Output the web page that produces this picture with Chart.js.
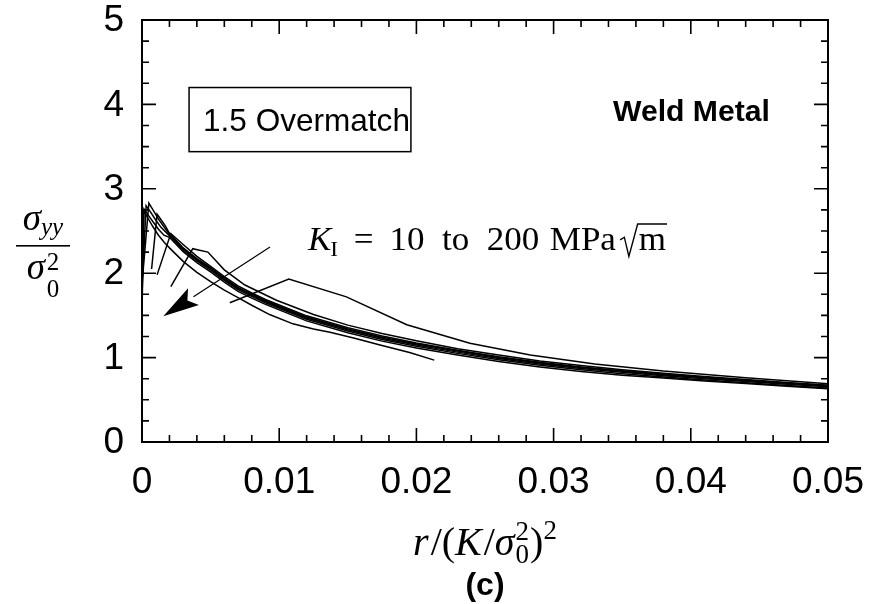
<!DOCTYPE html>
<html><head><meta charset="utf-8">
<script src="https://cdn.jsdelivr.net/npm/chart.js@4.4.1/dist/chart.umd.min.js"></script>
<style>html,body{margin:0;padding:0;background:#fff}canvas{display:block}</style>
</head><body>
<canvas id="c" width="870" height="604"></canvas>
<script>
// ---------- data ----------
const X_TICKS = [0, 0.01, 0.02, 0.03, 0.04, 0.05];
const X_TICK_LABELS = ['0', '0.01', '0.02', '0.03', '0.04', '0.05'];
const X_MINOR = [0.002,0.004,0.006,0.008,0.012,0.014,0.016,0.018,0.022,0.024,0.026,0.028,0.032,0.034,0.036,0.038,0.042,0.044,0.046,0.048];
const Y_TICKS = [0, 1, 2, 3, 4, 5];
const Y_TICK_LABELS = ['0', '1', '2', '3', '4', '5'];
const Y_MINOR = [0.25,0.5,0.75,1.25,1.5,1.75,2.25,2.5,2.75,3.25,3.5,3.75,4.25,4.5,4.75];

const X_TAIL = [0.002,0.003,0.004,0.005,0.006,0.007,0.008,0.009,0.010,0.012,0.015,0.0175,0.020,0.023,0.026,0.029,0.032,0.035,0.038,0.041,0.044,0.047,0.050];

const K10_X = [0.0064,0.0107,0.0149,0.0193,0.0239,0.0283,0.033,0.038,0.044,0.050];
const K10_Y = [1.65,1.93,1.72,1.39,1.17,1.03,0.925,0.84,0.76,0.69];

const K15_X = [0.0021,0.0037,0.0048,0.006,0.0075,0.0098,0.0125,0.015,0.0175,0.020,0.023,0.026,0.029,0.032,0.035,0.038,0.041,0.044,0.047,0.050];
const K15_Y = [1.84,2.29,2.25,2.04,1.86,1.68,1.51,1.385,1.285,1.20,1.105,1.03,0.96,0.905,0.855,0.815,0.775,0.74,0.705,0.672];

const K20_X = [0.0011,0.0021,0.003,0.004,0.005,0.006,0.007,0.008,0.009,0.010,0.012,0.015,0.0175,0.020,0.023,0.026,0.029,0.032,0.035,0.038,0.041,0.044,0.047,0.050];
const K20_Y = [1.98,2.47,2.34,2.20,2.08,1.96,1.85,1.765,1.69,1.625,1.495,1.355,1.255,1.172,1.087,1.01,0.945,0.89,0.843,0.802,0.766,0.733,0.70,0.668];

const K30_HEAD_X = [0.0007,0.0011,0.0014,0.0017];
const K30_HEAD_Y = [2.05,2.70,2.63,2.56];
const K30_TAIL_Y = [2.472,2.302,2.172,2.062,1.942,1.832,1.752,1.677,1.612,1.482,1.342,1.242,1.162,1.077,1.002,0.937,0.882,0.837,0.797,0.762,0.73,0.697,0.667];

const K50_HEAD_X = [0.00004,0.0005,0.0008,0.0012,0.0016];
const K50_HEAD_Y = [1.95,2.83,2.75,2.64,2.55];
const K50_TAIL_Y = [2.46,2.29,2.16,2.05,1.93,1.82,1.74,1.665,1.60,1.47,1.33,1.23,1.15,1.065,0.99,0.925,0.87,0.825,0.785,0.75,0.718,0.685,0.655];

const K100_HEAD_X = [0.00002,0.0003,0.0006,0.001,0.0014];
const K100_HEAD_Y = [1.88,2.80,2.73,2.63,2.54];
const K100_TAIL_Y = [2.445,2.275,2.145,2.035,1.915,1.805,1.725,1.65,1.585,1.455,1.315,1.215,1.135,1.05,0.975,0.91,0.855,0.81,0.77,0.735,0.703,0.67,0.64];

const K150_HEAD_X = [0.00002,0.00015,0.0004,0.0008,0.0012,0.0016];
const K150_HEAD_Y = [1.80,2.76,2.70,2.61,2.52,2.45];
const K150_TAIL_Y = [2.425,2.255,2.125,2.015,1.895,1.785,1.705,1.63,1.565,1.435,1.295,1.195,1.115,1.03,0.955,0.89,0.835,0.79,0.758,0.723,0.692,0.66,0.63];

const K200_X = [0.00002,0.00012,0.0004,0.0008,0.0012,0.0016,0.002,0.003,0.004,0.005,0.006,0.007,0.008,0.0093,0.011,0.0125,0.0137,0.0155,0.01735,0.0195,0.0213];
const K200_Y = [1.70,2.74,2.66,2.55,2.45,2.37,2.30,2.14,2.01,1.90,1.80,1.71,1.62,1.51,1.40,1.34,1.30,1.23,1.15,1.06,0.97];

// annotation anchors (data coordinates)
const BOX = {x0: 0.00343, x1: 0.0196, y0: 3.44, y1: 4.20};
const OVERMATCH_AT = {x: 0.00445, y: 3.686, text: '1.5 Overmatch'};
const WELD_AT = {x: 0.03433, y: 3.80, text: 'Weld Metal'};
const KI_AT = {x: 0.0121, y: 2.27};
const ARROW = {x0: 0.00933, y0: 2.31, x1: 0.00155, y1: 1.49};

// ---------- build ----------
function pts(xs, ys) { return xs.map((x, i) => ({x, y: ys[i]})); }
const series = [
  pts(K10_X, K10_Y),
  pts(K15_X, K15_Y),
  pts(K20_X, K20_Y),
  pts(K30_HEAD_X.concat(X_TAIL), K30_HEAD_Y.concat(K30_TAIL_Y)),
  pts(K50_HEAD_X.concat(X_TAIL), K50_HEAD_Y.concat(K50_TAIL_Y)),
  pts(K100_HEAD_X.concat(X_TAIL), K100_HEAD_Y.concat(K100_TAIL_Y)),
  pts(K150_HEAD_X.concat(X_TAIL), K150_HEAD_Y.concat(K150_TAIL_Y)),
  pts(K200_X, K200_Y)
];
const datasets = series.map(d => ({
  data: d, showLine: true, borderColor: '#000', borderWidth: 1.5,
  pointRadius: 0, tension: 0, fill: false
}));

const SERIF = '"Liberation Serif", "DejaVu Serif", serif';
const SANS = '"Liberation Sans", Arial, Helvetica, sans-serif';
const TICK_PX = 37;

function fitText(ctx, text, weight, family, width) {
  ctx.font = `${weight} 30px ${family}`;
  const w = ctx.measureText(text).width;
  return 30 * width / w;
}

const decor = {
  id: 'decor',
  afterDatasetsDraw(chart) {
    const {ctx, chartArea: a, scales: {x, y}} = chart;
    ctx.save();
    ctx.fillStyle = '#000'; ctx.strokeStyle = '#000';
    ctx.lineWidth = 2;
    ctx.strokeRect(a.left, a.top, a.right - a.left, a.bottom - a.top);
    ctx.lineWidth = 1.6;
    ctx.beginPath();
    const xt = (v, L) => { const p = x.getPixelForValue(v);
      ctx.moveTo(p, a.bottom); ctx.lineTo(p, a.bottom - L);
      ctx.moveTo(p, a.top); ctx.lineTo(p, a.top + L); };
    const yt = (v, L) => { const p = y.getPixelForValue(v);
      ctx.moveTo(a.left, p); ctx.lineTo(a.left + L, p);
      ctx.moveTo(a.right, p); ctx.lineTo(a.right - L, p); };
    X_TICKS.forEach(v => xt(v, 14)); X_MINOR.forEach(v => xt(v, 7));
    Y_TICKS.forEach(v => yt(v, 14)); Y_MINOR.forEach(v => yt(v, 7));
    ctx.stroke();

    // tick labels, placed through the scales
    ctx.font = `normal ${TICK_PX}px ${SANS}`;
    ctx.textBaseline = 'middle';
    ctx.textAlign = 'center';
    X_TICKS.forEach((v, i) => ctx.fillText(X_TICK_LABELS[i], x.getPixelForValue(v), a.bottom + 41));
    ctx.textAlign = 'right';
    Y_TICKS.forEach((v, i) => ctx.fillText(Y_TICK_LABELS[i], a.left - 18, y.getPixelForValue(v) + 1));

    const bx0 = x.getPixelForValue(BOX.x0), bx1 = x.getPixelForValue(BOX.x1);
    const by0 = y.getPixelForValue(BOX.y0), by1 = y.getPixelForValue(BOX.y1);
    ctx.lineWidth = 1.5;
    ctx.strokeRect(bx0, by1, bx1 - bx0, by0 - by1);
    let fs = fitText(ctx, OVERMATCH_AT.text, 'normal', SANS, 207);
    ctx.font = `normal ${fs}px ${SANS}`;
    ctx.textBaseline = 'alphabetic'; ctx.textAlign = 'left';
    ctx.fillText(OVERMATCH_AT.text, x.getPixelForValue(OVERMATCH_AT.x), y.getPixelForValue(OVERMATCH_AT.y));
    fs = fitText(ctx, WELD_AT.text, 'bold', SANS, 157);
    ctx.font = `bold ${fs}px ${SANS}`;
    ctx.fillText(WELD_AT.text, x.getPixelForValue(WELD_AT.x), y.getPixelForValue(WELD_AT.y));

    const ax0 = x.getPixelForValue(ARROW.x0), ay0 = y.getPixelForValue(ARROW.y0);
    const ax1 = x.getPixelForValue(ARROW.x1), ay1 = y.getPixelForValue(ARROW.y1);
    const ang = Math.atan2(ay0 - ay1, ax0 - ax1);
    const hl = 36, hw = 10;
    const bxm = ax1 + Math.cos(ang) * hl, bym = ay1 + Math.sin(ang) * hl;
    ctx.lineWidth = 1.2;
    ctx.beginPath(); ctx.moveTo(ax0, ay0); ctx.lineTo(bxm, bym); ctx.stroke();
    ctx.beginPath();
    ctx.moveTo(ax1, ay1);
    ctx.lineTo(bxm + Math.sin(ang) * hw, bym - Math.cos(ang) * hw);
    ctx.lineTo(ax1 + Math.cos(ang) * hl * 0.8, ay1 + Math.sin(ang) * hl * 0.8);
    ctx.lineTo(bxm - Math.sin(ang) * hw, bym + Math.cos(ang) * hw);
    ctx.closePath(); ctx.fill();

    drawKI(ctx, x.getPixelForValue(KI_AT.x), y.getPixelForValue(KI_AT.y), 359);
    drawYTitle(ctx);
    const mid = (a.left + a.right) / 2;
    drawXTitle(ctx, mid, 555);
    ctx.font = `bold 32px ${SANS}`; ctx.textAlign = 'center'; ctx.textBaseline = 'alphabetic';
    ctx.fillText('(c)', mid, 595);
    ctx.restore();
  }
};

function drawKI(ctx, x0, base, targetW) {
  const F = 33, f2 = 22;
  const parts = [];
  const add = (t, font, dy, gap) => parts.push({t, font, dy, gap});
  add('K', `italic ${F}px ${SERIF}`, 0, 0);
  add('I', `normal ${f2}px ${SERIF}`, 6, -1);
  add('=', `normal ${F}px ${SERIF}`, 0, 0.45 * F);
  add('10', `normal ${F}px ${SERIF}`, 0, 0.45 * F);
  add('to', `normal ${F}px ${SERIF}`, 0, 0.5 * F);
  add('200', `normal ${F}px ${SERIF}`, 0, 0.5 * F);
  add('MPa', `normal ${F}px ${SERIF}`, 0, 0.3 * F);
  let w = 0;
  parts.forEach(p => { ctx.font = p.font; p.w = ctx.measureText(p.t).width; w += p.gap + p.w; });
  ctx.font = `normal ${F}px ${SERIF}`;
  const mW = ctx.measureText('m').width;
  const sqW = 0.5 * F;
  const total = w + 0.12 * F + sqW + mW + 2;
  const s = targetW / total;
  ctx.save();
  ctx.translate(x0, base); ctx.scale(s, 1);
  ctx.textAlign = 'left'; ctx.textBaseline = 'alphabetic';
  let cx = 0;
  parts.forEach(p => { cx += p.gap; ctx.font = p.font; ctx.fillText(p.t, cx, p.dy); cx += p.w; });
  cx += 0.12 * F;
  ctx.lineWidth = 1.3; ctx.beginPath();
  const top = -0.8 * F;
  ctx.moveTo(cx, -0.32 * F); ctx.lineTo(cx + 0.12 * F, -0.4 * F);
  ctx.lineTo(cx + 0.25 * F, 0.18 * F);
  ctx.lineTo(cx + sqW, top);
  ctx.lineTo(cx + sqW + mW + 2, top);
  ctx.stroke();
  ctx.font = `normal ${F}px ${SERIF}`;
  ctx.fillText('m', cx + sqW + 1, 0);
  ctx.restore();
}

function drawYTitle(ctx) {
  ctx.textAlign = 'left'; ctx.textBaseline = 'alphabetic';
  const F = 37, f2 = 25;
  ctx.font = `italic ${F}px ${SERIF}`; const wS = ctx.measureText('σ').width;
  ctx.font = `italic ${f2}px ${SERIF}`; const wY = ctx.measureText('yy').width;
  const barL = 16, barR = 70, cx = (barL + barR) / 2;
  let x0 = cx - (wS + wY) / 2;
  ctx.font = `italic ${F}px ${SERIF}`; ctx.fillText('σ', x0, 230);
  ctx.font = `italic ${f2}px ${SERIF}`; ctx.fillText('yy', x0 + wS, 235);
  ctx.fillRect(barL, 245, barR - barL, 1.6);
  ctx.font = `normal ${f2}px ${SERIF}`; const w0 = ctx.measureText('0').width;
  x0 = cx - (wS + w0 + 2) / 2;
  ctx.font = `italic ${F}px ${SERIF}`; ctx.fillText('σ', x0, 279);
  ctx.font = `normal ${f2}px ${SERIF}`;
  ctx.fillText('2', x0 + wS + 2, 270);
  ctx.fillText('0', x0 + wS + 2, 297);
}

function drawXTitle(ctx, cxm, base) {
  const F = 40, f2 = 27;
  const segs = [
    {t: 'r', f: `italic ${F}px ${SERIF}`, dy: 0},
    {t: '/(', f: `normal ${F}px ${SERIF}`, dy: 0},
    {t: 'K', f: `italic ${F}px ${SERIF}`, dy: 0},
    {t: '/', f: `normal ${F}px ${SERIF}`, dy: 0},
    {t: 'σ', f: `italic ${F}px ${SERIF}`, dy: 0},
    {t: 'STACK'},
    {t: ')', f: `normal ${F}px ${SERIF}`, dy: 0},
    {t: '2', f: `normal ${f2}px ${SERIF}`, dy: -16}
  ];
  ctx.textAlign = 'left'; ctx.textBaseline = 'alphabetic';
  let w = 0;
  segs.forEach(s => {
    if (s.t === 'STACK') { ctx.font = `normal ${f2}px ${SERIF}`; s.w = ctx.measureText('0').width + 2; }
    else { ctx.font = s.f; s.w = ctx.measureText(s.t).width + (s.t === 'r' || s.t === 'K' ? 2 : 0); }
    w += s.w;
  });
  let cx = cxm - w / 2;
  segs.forEach(s => {
    if (s.t === 'STACK') {
      ctx.font = `normal ${f2}px ${SERIF}`;
      ctx.fillText('2', cx + 1, base - 15);
      ctx.fillText('0', cx + 1, base + 8);
    } else { ctx.font = s.f; ctx.fillText(s.t, cx, base + s.dy); }
    cx += s.w;
  });
}

new Chart(document.getElementById('c'), {
  type: 'scatter',
  data: {datasets},
  options: {
    responsive: false, animation: false, devicePixelRatio: 1,
    layout: {padding: {top: 20, right: 42, left: 0, bottom: 0}},
    plugins: {legend: {display: false}, tooltip: {enabled: false}},
    scales: {
      x: {
        type: 'linear', min: 0, max: 0.05,
        afterFit: s => { s.height = 162; s.paddingLeft = 0; s.paddingRight = 0; },
        afterBuildTicks: s => { s.ticks = X_TICKS.map(v => ({value: v})); },
        ticks: {display: false},
        grid: {display: false}, border: {display: false}
      },
      y: {
        type: 'linear', min: 0, max: 5,
        afterFit: s => { s.width = 142; s.paddingTop = 0; s.paddingBottom = 0; },
        afterBuildTicks: s => { s.ticks = Y_TICKS.map(v => ({value: v})); },
        ticks: {display: false},
        grid: {display: false}, border: {display: false}
      }
    }
  },
  plugins: [decor]
});
</script></body></html>
